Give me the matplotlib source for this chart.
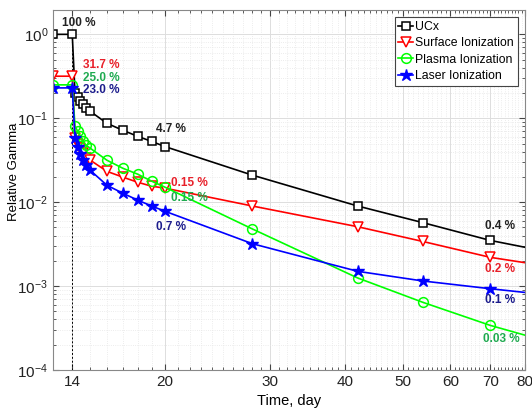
import numpy as np
import matplotlib
matplotlib.use("Agg")
import matplotlib.pyplot as plt
from matplotlib.ticker import FixedLocator, NullFormatter, LogLocator, LogFormatterMathtext

plt.rcParams['font.family'] = ['Liberation Sans', 'DejaVu Sans']

# time, day
days = [13, 14, 14.15, 14.3, 14.45, 14.6, 14.75, 15, 16, 17, 18, 19, 20, 28, 42, 54, 70, 80]

# relative gamma
ucx = [1.0, 1.0, 0.198, 0.178, 0.159, 0.147, 0.131, 0.121, 0.087, 0.072, 0.061, 0.053, 0.046,
       0.021, 0.0090, 0.0057, 0.0035, 0.0029]
surface = [0.317, 0.317, 0.058, 0.050, 0.044, 0.039, 0.034, 0.0317, 0.0233, 0.0199, 0.0173, 0.0155, 0.0147,
           0.0090, 0.0051, 0.0034, 0.0022, 0.0019]
plasma = [0.25, 0.25, 0.080, 0.070, 0.061, 0.053, 0.048, 0.044, 0.0316, 0.0254, 0.0216, 0.0178, 0.0151,
          0.0048, 0.00125, 0.00064, 0.00034, 0.00026]
laser = [0.23, 0.23, 0.058, 0.045, 0.038, 0.0316, 0.0276, 0.024, 0.0159, 0.0128, 0.0106, 0.0090, 0.0078,
         0.0032, 0.0015, 0.00115, 0.00093, 0.00084]

x_ticks = [14, 20, 30, 40, 50, 60, 70, 80]

# annotations: (text, x, y, color) - left edge of text
notes = [
    ("100 %", 13.45, 1.35, "#222222"),
    ("31.7 %", 14.6, 0.427, "#e8202a"),
    ("25.0 %", 14.6, 0.30, "#1faa50"),
    ("23.0 %", 14.6, 0.22, "#1c1c8c"),
    ("4.7 %", 19.3, 0.074, "#222222"),
    ("0.15 %", 20.5, 0.0168, "#e8202a"),
    ("0.15 %", 20.5, 0.0112, "#1faa50"),
    ("0.7 %", 19.3, 0.0050, "#1c1c8c"),
    ("0.4 %", 68.6, 0.0052, "#222222"),
    ("0.2 %", 68.6, 0.00160, "#e8202a"),
    ("0.1 %", 68.6, 0.00068, "#1c1c8c"),
    ("0.03 %", 68.0, 0.000235, "#1faa50"),
]

fig = plt.figure(figsize=(5.32, 4.11), dpi=100)
ax = fig.add_axes([53 / 532, 41 / 411, 472 / 532, 360 / 411])

mk = list(range(len(days) - 1))
ax.plot(days, ucx, color="black", marker="s", mfc="white", ms=6, mew=1.1, lw=1.2, markevery=mk, label="UCx")
ax.plot(days, surface, color="#ff0000", marker="v", mfc="white", ms=7, mew=1.1, lw=1.2, markevery=mk,
        label="Surface Ionization")
ax.plot(days, plasma, color="#00ff00", marker="o", mfc="none", ms=7, mew=1.1, lw=1.2, markevery=mk,
        label="Plasma Ionization")
ax.plot(days, laser, color="#0000ff", marker="*", ms=9, lw=1.2, markevery=mk, label="Laser Ionization")

ax.plot([14, 14], [1e-4, 1.0], color="black", lw=0.7, ls=(0, (2, 2)), zorder=1)

for txt, x, y, c in notes:
    ax.text(x, y, txt, color=c, fontsize=8.5, fontweight="bold", ha="left", va="center")

ax.set_xscale("log")
ax.set_yscale("log")
ax.set_xlim(13, 80)
ax.set_ylim(1e-4, 1.95)

ax.xaxis.set_major_locator(FixedLocator(x_ticks))
ax.xaxis.set_major_formatter(plt.FixedFormatter([str(t) for t in x_ticks]))
ax.xaxis.set_minor_locator(FixedLocator([d for d in range(13, 80) if d not in x_ticks]))
ax.xaxis.set_minor_formatter(NullFormatter())
ax.yaxis.set_major_locator(LogLocator(base=10, numticks=10))
ax.yaxis.set_major_formatter(LogFormatterMathtext())
ax.yaxis.set_minor_locator(LogLocator(base=10, subs=np.arange(2, 10), numticks=10))
ax.yaxis.set_minor_formatter(NullFormatter())

ax.grid(True, which="major", color="#dddddd", lw=0.7, ls="-")
ax.grid(True, which="minor", color="#e6e6e6", lw=0.6, ls=":")
ax.set_axisbelow(True)

ax.tick_params(which="both", direction="in", top=True, right=True, colors="#444444", labelcolor="#222222")
ax.tick_params(which="major", length=4, labelsize=11)
ax.tick_params(which="minor", length=2)
for s in ax.spines.values():
    s.set_color("#888888")
    s.set_linewidth(0.8)

ax.set_xlabel("Time, day", fontsize=10.5)
ax.set_ylabel("Relative Gamma", fontsize=9.5, va="center")
ax.yaxis.set_label_coords(-0.0825, 0.55)

leg = ax.legend(loc="upper right", fontsize=8.8, handlelength=1.2, handletextpad=0.2, borderpad=0.3,
                labelspacing=0.35, fancybox=False, framealpha=1, borderaxespad=0.6)
leg.get_frame().set_edgecolor("#444444")
leg.get_frame().set_linewidth(0.8)

fig.savefig("out.png", dpi=100)
